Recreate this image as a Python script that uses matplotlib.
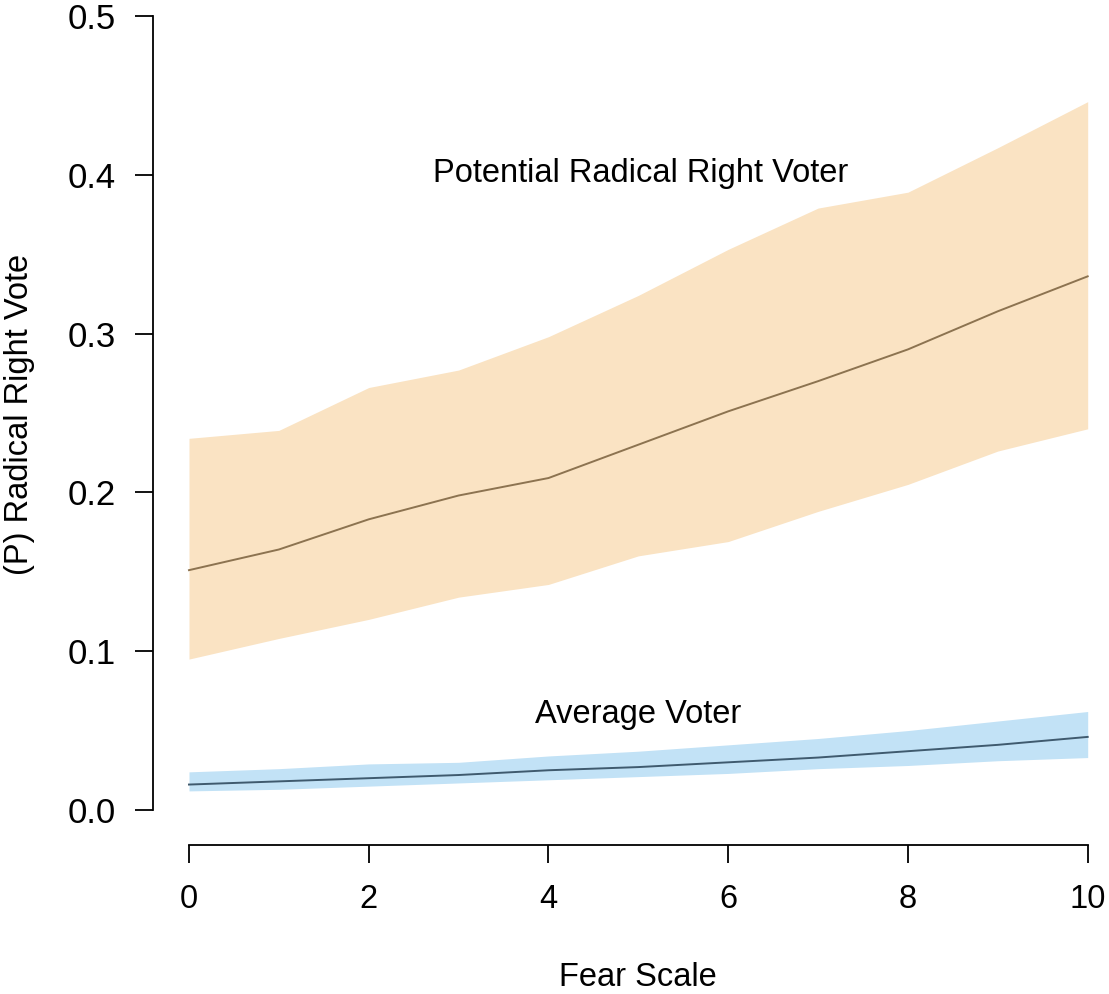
import matplotlib
matplotlib.use("Agg")
import matplotlib.pyplot as plt
import numpy as np

plt.rcParams['font.family'] = ['Liberation Sans', 'DejaVu Sans']

# data
fear = [0, 1, 2, 3, 4, 5, 6, 7, 8, 9, 10]

rr_mean = [0.151, 0.164, 0.183, 0.198, 0.209, 0.230, 0.251, 0.270, 0.290, 0.314, 0.336]
rr_upper = [0.234, 0.239, 0.266, 0.277, 0.298, 0.324, 0.353, 0.379, 0.389, 0.417, 0.446]
rr_lower = [0.095, 0.108, 0.120, 0.134, 0.142, 0.160, 0.169, 0.188, 0.205, 0.226, 0.240]

avg_mean = [0.016, 0.018, 0.020, 0.022, 0.025, 0.027, 0.030, 0.033, 0.037, 0.041, 0.046]
avg_upper = [0.024, 0.026, 0.029, 0.030, 0.034, 0.037, 0.041, 0.045, 0.050, 0.056, 0.062]
avg_lower = [0.012, 0.013, 0.015, 0.017, 0.019, 0.021, 0.023, 0.026, 0.028, 0.031, 0.033]

x_ticks = [0, 2, 4, 6, 8, 10]
y_ticks = [0.0, 0.1, 0.2, 0.3, 0.4, 0.5]

fig = plt.figure(figsize=(11.09, 9.94), dpi=100)
ax = fig.add_axes([0.138, 0.150, 0.859, 0.842])

ax.fill_between(fear, rr_lower, rr_upper, color='#FAE3C3', linewidth=0)
ax.plot(fear, rr_mean, color='#8C7350', linewidth=1.4)
ax.fill_between(fear, avg_lower, avg_upper, color='#C2E2F6', linewidth=0)
ax.plot(fear, avg_mean, color='#3F5A6E', linewidth=1.4)

ax.text(5.02, 0.4005, 'Potential Radical Right Voter', ha='center', va='center', fontsize=23.5)
ax.text(5.0, 0.060, 'Average Voter', ha='center', va='center', fontsize=23.5)

ax.set_xlim(-0.4, 10.2)
ax.set_ylim(-0.022, 0.505)
ax.spines['top'].set_visible(False)
ax.spines['right'].set_visible(False)
ax.spines['left'].set_bounds(0, 0.5)
ax.spines['bottom'].set_bounds(0, 10)
for s in ('left', 'bottom'):
    ax.spines[s].set_linewidth(1.3)

ax.set_xticks(x_ticks)
ax.set_xticklabels([str(t) for t in x_ticks])
ax.set_yticks(y_ticks)
ax.set_yticklabels(['%.1f' % t for t in y_ticks])
ax.tick_params(axis='both', length=13, width=1.3)
ax.tick_params(axis='x', pad=15, labelsize=23.5)
ax.tick_params(axis='y', pad=14, labelsize=25)

ax.set_xlabel('Fear Scale', fontsize=23.5)
ax.set_ylabel('(P) Radical Right Vote', fontsize=23.5)
# centre the labels on the drawn axis lines, not the whole axes box
ax.xaxis.set_label_coords(0.509, -0.140)
ax.yaxis.set_label_coords(-0.124, 0.514)

fig.savefig('out.png', dpi=100)
